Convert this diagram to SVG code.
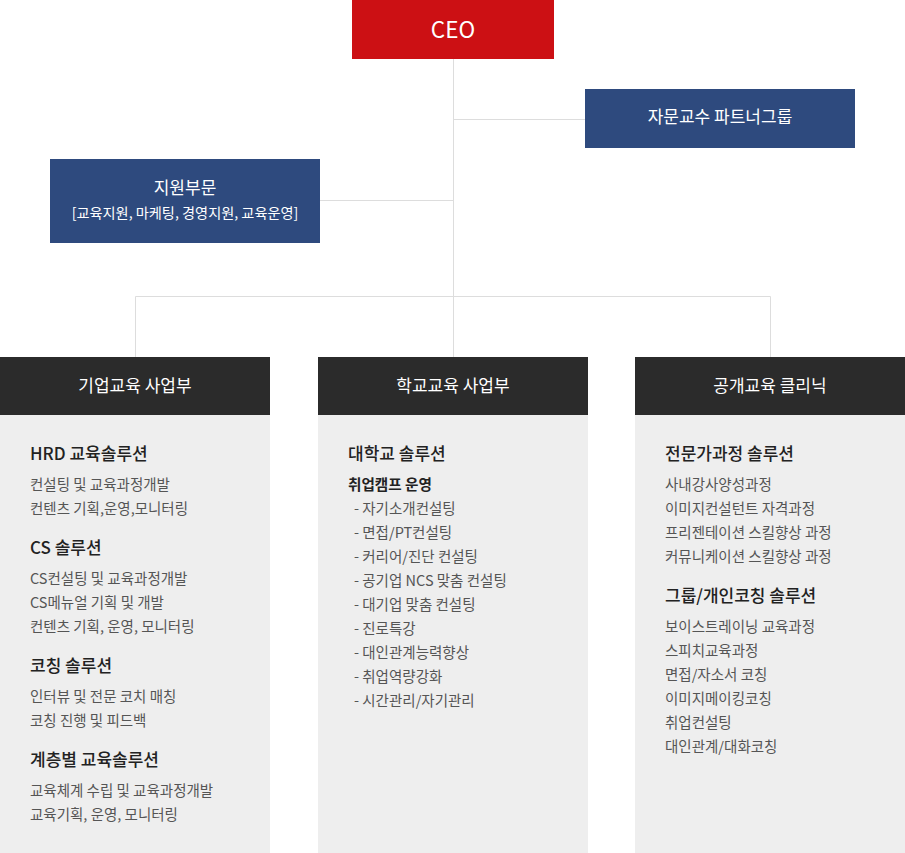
<svg xmlns="http://www.w3.org/2000/svg" width="905" height="853" viewBox="0 0 905 853">
<style>
text{font-family:"Noto Sans CJK KR","Noto Sans",sans-serif}
.line{stroke:#dddddd;stroke-width:1;fill:none}
.w{fill:#ffffff;text-anchor:middle}
.hd{fill:#2b2b2b}
.bd{fill:#eeeeee}
.t{font-size:17px}
.h{font-size:17px;fill:#222222;font-weight:500}
.s{font-size:14.6px;fill:#222222;font-weight:700}
.i{font-size:14.5px;fill:#555555}
</style>
<rect width="905" height="853" fill="#ffffff"/>
<g id="connectors">
<path class="line" d="M453.5 58V357M453 119.5H585M320 200.5H453M135.5 357V296.5H770.5V357"/>
</g>
<g id="ceo">
<rect x="352" y="0" width="202" height="59" fill="#cc1014"/>
<text class="w" x="453" y="38" font-size="22.5">CEO</text>
</g>
<g id="partner">
<rect x="585" y="89" width="270" height="59" fill="#2e4a7e"/>
<text class="w t" x="720" y="123">자문교수 파트너그룹</text>
</g>
<g id="support">
<rect x="50" y="159" width="270" height="84" fill="#2e4a7e"/>
<text class="w t" x="185" y="194">지원부문</text>
<text class="w" x="185" y="218" font-size="14.2">[교육지원, 마케팅, 경영지원, 교육운영]</text>
</g>
<g id="corporate">
<rect class="bd" x="0" y="415" width="270" height="438"/>
<rect class="hd" x="0" y="357" width="270" height="58"/>
<text class="w t" x="135" y="392">기업교육 사업부</text>
<text class="h" x="30" y="460">HRD 교육솔루션</text>
<text class="i" x="30" y="490">컨설팅 및 교육과정개발</text>
<text class="i" x="30" y="514">컨텐츠 기획,운영,모니터링</text>
<text class="h" x="30" y="554">CS 솔루션</text>
<text class="i" x="30" y="584">CS컨설팅 및 교육과정개발</text>
<text class="i" x="30" y="608">CS메뉴얼 기획 및 개발</text>
<text class="i" x="30" y="632">컨텐츠 기획, 운영, 모니터링</text>
<text class="h" x="30" y="672">코칭 솔루션</text>
<text class="i" x="30" y="702">인터뷰 및 전문 코치 매칭</text>
<text class="i" x="30" y="726">코칭 진행 및 피드백</text>
<text class="h" x="30" y="766">계층별 교육솔루션</text>
<text class="i" x="30" y="796">교육체계 수립 및 교육과정개발</text>
<text class="i" x="30" y="820">교육기획, 운영, 모니터링</text>
</g>
<g id="school">
<rect class="bd" x="318" y="415" width="270" height="438"/>
<rect class="hd" x="318" y="357" width="270" height="58"/>
<text class="w t" x="453" y="392">학교교육 사업부</text>
<text class="h" x="348" y="460">대학교 솔루션</text>
<text class="s" x="348" y="490">취업캠프 운영</text>
<text class="i" x="354" y="514">- 자기소개컨설팅</text>
<text class="i" x="354" y="538">- 면접/PT컨설팅</text>
<text class="i" x="354" y="562">- 커리어/진단 컨설팅</text>
<text class="i" x="354" y="586">- 공기업 NCS 맞춤 컨설팅</text>
<text class="i" x="354" y="610">- 대기업 맞춤 컨설팅</text>
<text class="i" x="354" y="634">- 진로특강</text>
<text class="i" x="354" y="658">- 대인관계능력향상</text>
<text class="i" x="354" y="682">- 취업역량강화</text>
<text class="i" x="354" y="706">- 시간관리/자기관리</text>
</g>
<g id="open">
<rect class="bd" x="635" y="415" width="270" height="438"/>
<rect class="hd" x="635" y="357" width="270" height="58"/>
<text class="w t" x="770" y="392">공개교육 클리닉</text>
<text class="h" x="665" y="460">전문가과정 솔루션</text>
<text class="i" x="665" y="490">사내강사양성과정</text>
<text class="i" x="665" y="514">이미지컨설턴트 자격과정</text>
<text class="i" x="665" y="538">프리젠테이션 스킬향상 과정</text>
<text class="i" x="665" y="562">커뮤니케이션 스킬향상 과정</text>
<text class="h" x="665" y="602">그룹/개인코칭 솔루션</text>
<text class="i" x="665" y="632">보이스트레이닝 교육과정</text>
<text class="i" x="665" y="656">스피치교육과정</text>
<text class="i" x="665" y="680">면접/자소서 코칭</text>
<text class="i" x="665" y="704">이미지메이킹코칭</text>
<text class="i" x="665" y="728">취업컨설팅</text>
<text class="i" x="665" y="752">대인관계/대화코칭</text>
</g>
</svg>
